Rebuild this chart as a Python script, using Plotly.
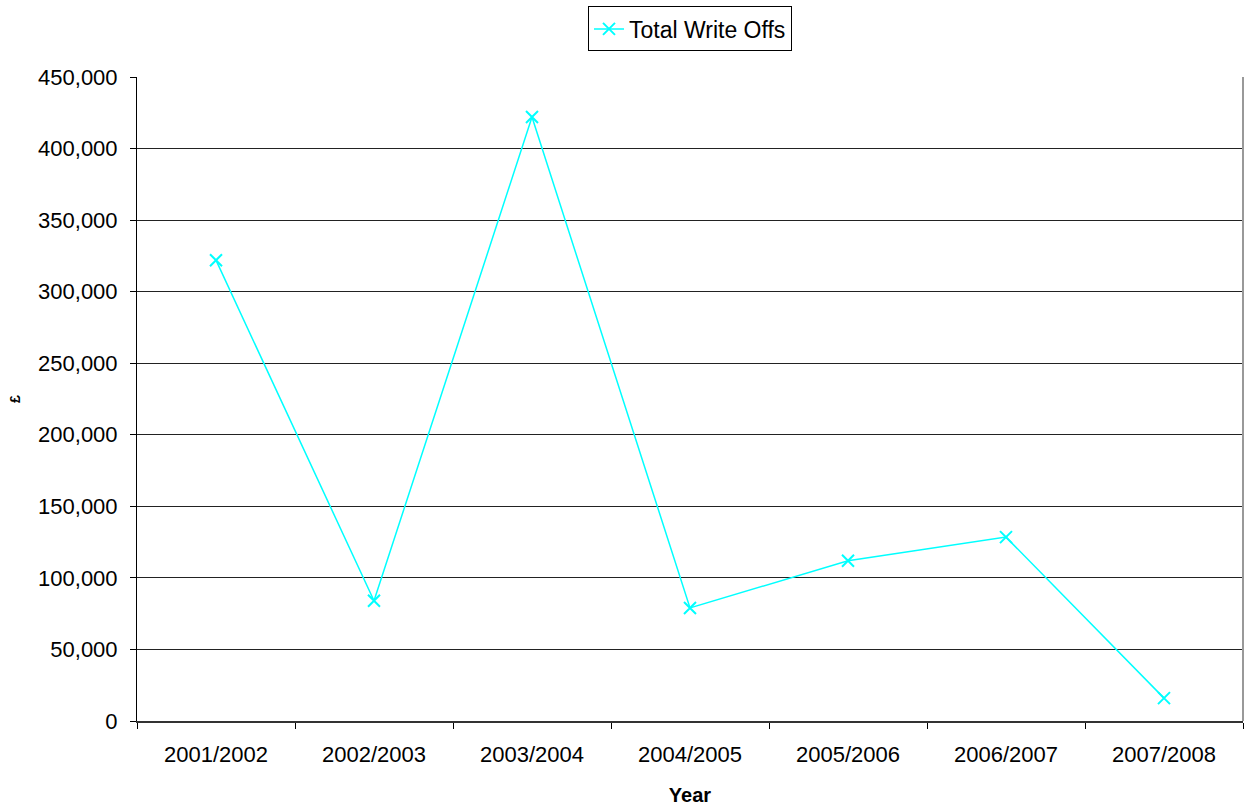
import plotly.graph_objects as go

years = ["2001/2002", "2002/2003", "2003/2004", "2004/2005",
         "2005/2006", "2006/2007", "2007/2008"]
write_offs = [322000, 84000, 422000, 79000, 112000, 128500, 16000]

FONT = "Liberation Sans, Arial, sans-serif"

fig = go.Figure()
fig.add_trace(go.Scatter(
    x=years, y=write_offs, name="Total Write Offs",
    mode="lines+markers",
    line=dict(color="#00FFFF", width=1.5),
    marker=dict(symbol="x-thin", size=12, color="#00FFFF",
                line=dict(color="#00FFFF", width=2)),
))

fig.update_layout(
    width=1244, height=806,
    margin=dict(l=137, r=1, t=77, b=85),
    paper_bgcolor="white", plot_bgcolor="white",
    font=dict(family=FONT, size=22, color="black"),
    showlegend=True,
    legend=dict(x=0.5, xanchor="center", y=0.992, yanchor="top",
                yref="container", orientation="h",
                bordercolor="black", borderwidth=1,
                font=dict(size=23), itemwidth=30,
                tracegroupgap=0, bgcolor="white"),
    xaxis=dict(
        type="category", tickson="boundaries",
        range=[-0.5, len(years) - 0.5], autorange=False,
        automargin=False,
        ticks="outside", ticklen=6, tickcolor="black",
        ticklabelstandoff=13,
        showline=True, linecolor="#333", linewidth=2,
        showgrid=False,
        title=dict(text="<b>Year</b>", font=dict(size=20), standoff=22),
    ),
    yaxis=dict(
        range=[0, 450000], dtick=50000, tickformat=",",
        automargin=False,
        ticks="outside", ticklen=6, tickcolor="black",
        ticklabelstandoff=8,
        showline=True, linecolor="black", linewidth=1,
        showgrid=True, gridcolor="#222", gridwidth=1,
        zeroline=False,
    ),
)

# y-axis title placed as a rotated annotation left of the tick labels
fig.add_annotation(text="<b>£</b>", xref="paper", yref="paper",
                   x=(15 - 137) / 1106, y=0.5, showarrow=False,
                   textangle=-90, font=dict(size=14),
                   xanchor="center", yanchor="middle")

fig.add_shape(type="line", xref="paper", yref="paper",
              x0=1, x1=1, y0=0, y1=1,
              line=dict(color="#999", width=2))

fig.write_html("out.html")
